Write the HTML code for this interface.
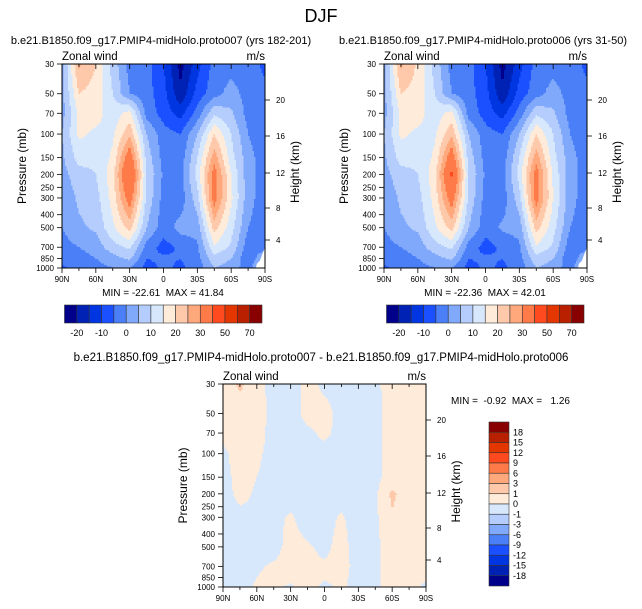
<!DOCTYPE html>
<html><head><meta charset="utf-8"><style>
body{margin:0;background:#fff}
svg{display:block;font-family:"Liberation Sans",Arial,sans-serif}
</style></head><body>
<svg id="fig" width="642" height="609" viewBox="0 0 642 609" xmlns="http://www.w3.org/2000/svg">
<text x="321" y="22" font-size="18" text-anchor="middle">DJF</text>
</svg>
<script>
// ---- data ----
const pressureLevels=[30,50,70,100,150,200,300,500,700,850,1000];
const latLabels=['90N','60N','30N','0','30S','60S','90S'];
const pressureTicks=[30,50,70,100,150,200,250,300,400,500,700,850,1000];
const heightTicks=[20,16,12,8,4];
const heightTickOffsets=[36,72,109,144,176];
// rows = pressure levels, cols = 90N..90S every 15 deg
const u007=[
[3,26,20,8,-2,-3,-10,-22,-12,-3,-2,-3,-6],
[3,20,18,10,0,-3,-8,-19,-8,-2,2,-2,-4],
[3,16,17,12,17,-2,-7,-12,-3,9,6,-2,-4],
[5,16,14,14,24,5,-3,-5,5,20,10,0,-4],
[4,12,11,16,35,8,-2,-3,10,28,12,2,-3],
[3,8,10,18,41,10,-1,-2,12,33,15,2,-3],
[1,6,8,17,34,9,-2,-3,8,33,16,2,-3],
[0,4,6,14,22,5,-3,2,2,22,12,0,-3],
[-2,0,2,8,11,-2,-7,-4,-1,14,9,-3,-2],
[-3,-2,0,3,6,-5,-4,-5,-2,8,5,-4,5],
[-6,-3,-2,0,0,-7,-4,-6,-3,5,3,-3,10]];
const u006=[
[3,26,19,8,-2,-3,-10,-22,-12,-3,-2,-3,-6],
[3,20,18,10,0,-3,-8,-19,-8,-2,2,-2,-4],
[3,16,17,12,17,-2,-7,-12,-3,9,6,-2,-4],
[5,16,14,14,24,5,-3,-5,5,20,10,0,-4],
[4,12,11,16,35,8,-2,-3,10,28,12,2,-3],
[3,8,10,18,42,10,-1,-2,12,33,14,2,-3],
[1,6,8,17,34,9,-2,-3,8,33,15,2,-3],
[0,4,6,14,22,5,-3,1,2,22,12,0,-3],
[-2,0,2,8,11,-2,-7,-4,-1,14,9,-3,-2],
[-3,-2,0,3,6,-5,-4,-5,-2,8,5,-4,5],
[-6,-3,-2,0,0,-7,-4,-6,-3,5,3,-3,10]];
const uDiff=[
[0.4,1.2,0.4,-0.4,-0.4,0.3,-0.2,-0.3,-0.4,-0.2,0.4,0.4,0.3],
[0.4,0.5,0.4,-0.3,-0.4,0.3,0.3,-0.3,-0.4,-0.3,0.4,0.4,0.3],
[0.3,0.4,0.3,-0.3,-0.4,-0.2,0.2,-0.3,-0.4,-0.3,0.4,0.4,0.3],
[-0.2,0.4,0.1,-0.2,-0.4,-0.4,-0.3,-0.4,-0.4,-0.3,0.4,0.4,0.3],
[-0.3,0.3,0.0,-0.2,-0.4,-0.4,-0.3,-0.4,-0.4,-0.3,0.5,0.4,0.3],
[-0.3,0.2,-0.1,-0.2,-0.4,-0.4,-0.3,-0.4,-0.4,-0.2,1.2,0.4,0.3],
[-0.3,-0.2,-0.1,-0.2,0.1,-0.4,-0.3,0.1,-0.4,-0.2,0.9,0.4,0.3],
[-0.3,-0.3,-0.2,-0.3,0.3,0.1,-0.2,0.3,-0.4,-0.2,0.4,0.4,0.3],
[-0.3,-0.3,-0.1,0.1,0.3,0.2,0.1,0.3,-0.3,-0.2,0.4,0.4,0.3],
[-0.3,-0.3,0.0,0.2,0.2,0.3,0.1,0.2,-0.3,-0.2,0.4,0.4,0.1],
[-0.3,-0.3,0.1,0.1,-0.1,0.3,-0.2,0.2,-0.3,-0.2,0.4,0.3,-0.2]];
const windLevels=[-20,-15,-10,-5,0,5,10,15,20,25,30,40,50,60,70];
const windLabels=['-20','-10','0','10','20','30','50','70'];
const diffLevels=[-18,-15,-12,-9,-6,-3,-1,0,1,3,6,9,12,15,18];
const palette=['#00008b','#0022b4','#0036e2','#1a50ff','#4a7ff8','#80a8fb','#b4cdfc','#d7e8fd','#ffebd9','#fec9aa','#fea87c','#fe7a48','#fe4a1e','#e43600','#b82000','#880000'];

// ---- drawing ----
const NS='http://www.w3.org/2000/svg';
const fig=document.getElementById('fig');
function el(tag,attrs,parent,txt){const e=document.createElementNS(NS,tag);for(const k in attrs)e.setAttribute(k,attrs[k]);if(txt!==undefined)e.textContent=txt;(parent||fig).appendChild(e);return e;}
const LP=Math.log(1000/30);
function yOfP(p,y0,h){return y0+h*Math.log(p/30)/LP;}
function sample(data,fx,lp){
  const nc=data[0].length-1;let ci=Math.min(nc-1,Math.max(0,Math.floor(fx)));const tx=Math.min(1,Math.max(0,fx-ci));
  let ri=0;const L=pressureLevels.map(p=>Math.log(p));
  while(ri<L.length-2&&lp>L[ri+1])ri++;
  const ty=Math.min(1,Math.max(0,(lp-L[ri])/(L[ri+1]-L[ri])));
  const a=data[ri][ci]*(1-tx)+data[ri][ci+1]*tx;
  const b=data[ri+1][ci]*(1-tx)+data[ri+1][ci+1]*tx;
  return a*(1-ty)+b*ty;
}
function bin(v,levels){let i=0;while(i<levels.length&&v>=levels[i])i++;return i;}
function panel(name,x0,y0,w,h,data,levels,title,minmax,mmx,mmy,mmAnchor,whiteCorner){
  const g=el('g',{});
  
  
  const cells=el('g',{},g);
  
  
  const c=1.5;
  for(let py=0;py<h;py+=c){
    const lp=Math.log(30)+LP*(py+c/2)/h;
    let runStart=0,runCol=null;
    for(let px=0;;px+=c){
      const done=px>=w;
      let col=null;
      if(!done){const v=sample(data,(px+c/2)/w*12,lp);col=palette[bin(v,levels)];}
      if(col!==runCol||done){
        if(runCol!==null){const r=el('rect',{x:x0+runStart,y:y0+py,width:Math.min(px,w)-runStart+0.3,height:Math.min(c,h-py)+0.3,fill:runCol},cells);
          
          }
        runStart=px;runCol=col;
      }
      if(done)break;
    }
  }
  if(whiteCorner){
    const Y=p=>yOfP(p,y0,h);
    const wc=el('path',{d:`M${x0+w*0.955},${Y(1000)} L${x0+w*0.96},${Y(930)} L${x0+w*0.975},${Y(880)} L${x0+w*0.985},${Y(800)} L${x0+w},${Y(700)} L${x0+w},${Y(1000)}Z`,fill:'#fff'},g);
    
    
  }
  const fr=el('rect',{x:x0,y:y0,width:w,height:h,fill:'none',stroke:'#000','stroke-width':1},g);
  
  
  for(let i=0;i<=12;i++){const x=x0+w*i/12;
    el('line',{x1:x,x2:x,y1:y0,y2:y0+(i%2?3:5),stroke:'#000','stroke-width':0.8},g);
    el('line',{x1:x,x2:x,y1:y0+h,y2:y0+h+(i%2?3:5),stroke:'#000','stroke-width':0.8},g);}
  latLabels.forEach((t,i)=>{const tx=el('text',{x:x0+w*i/6,y:y0+h+14,'font-size':8,'text-anchor':'middle'},g,t);
    
    });
  pressureTicks.forEach(p=>{const y=yOfP(p,y0,h);
    el('line',{x1:x0-5,x2:x0,y1:y,y2:y,stroke:'#000','stroke-width':0.8},g);
    const tx=el('text',{x:x0-8,y:y+3,'font-size':8,'text-anchor':'end'},g,String(p));
    
    });
  heightTicks.forEach((k,i)=>{const y=y0+heightTickOffsets[i];
    el('line',{x1:x0+w,x2:x0+w+5,y1:y,y2:y,stroke:'#000','stroke-width':0.8},g);
    const tx=el('text',{x:x0+w+11,y:y+3,'font-size':8},g,String(k));
    
    });
  const yt=el('text',{transform:`translate(${x0-36},${y0+h/2}) rotate(-90)`,'font-size':12,'text-anchor':'middle'},g,'Pressure (mb)');
  
  
  const yr=el('text',{transform:`translate(${x0+w+34},${y0+h/2+6}) rotate(-90)`,'font-size':12,'text-anchor':'middle'},g,'Height (km)');
  
  
  const zw=el('text',{x:x0,y:y0-4,'font-size':11.5},g,'Zonal wind');
  
  
  const un=el('text',{x:x0+w,y:y0-4,'font-size':11.5,'text-anchor':'end'},g,'m/s');
  
  
  const ti=el('text',{x:title[1],y:title[2],'font-size':title[3],'text-anchor':'middle'},g,title[0]);
  
  
  const mm=el('text',{x:mmx,y:mmy,'font-size':10,'text-anchor':mmAnchor,style:'white-space:pre'},g,minmax);
  
  
}
function hbar(x0,y0,w,h){
  const g=el('g',{});
  
  
  const bw=w/16;
  palette.forEach((c,i)=>{const r=el('rect',{x:x0+i*bw,y:y0,width:bw,height:h,fill:c,stroke:'#333','stroke-width':0.6},g);
    
    });
  windLabels.forEach((t,i)=>{const tx=el('text',{x:x0+bw*(1+2*i),y:y0+h+13,'font-size':9,'text-anchor':'middle'},g,t);
    
    });
}
function vbar(x0,y0,w,h){
  const g=el('g',{});
  
  
  const bh=h/16;
  palette.slice().reverse().forEach((c,i)=>{const r=el('rect',{x:x0,y:y0+i*bh,width:w,height:bh,fill:c,stroke:'#333','stroke-width':0.6},g);
    
    });
  diffLevels.slice().reverse().forEach((v,i)=>{const tx=el('text',{x:x0+w+4,y:y0+bh*(i+1)+3,'font-size':9},g,String(v));
    
    });
}
panel('panel-proto007',62,64,203,204,u007,windLevels,['b.e21.B1850.f09_g17.PMIP4-midHolo.proto007 (yrs 182-201)',161,44,11],'MIN = -22.61  MAX = 41.84',163,296,'middle',true);
panel('panel-proto006',384,64,203,204,u006,windLevels,['b.e21.B1850.f09_g17.PMIP4-midHolo.proto006 (yrs 31-50)',483,44,11],'MIN = -22.36  MAX = 42.01',485,296,'middle',true);
hbar(64.5,305,197.5,18);
hbar(386.5,305,197.5,18);
panel('panel-difference',223,384,203,203,uDiff,diffLevels,['b.e21.B1850.f09_g17.PMIP4-midHolo.proto007 - b.e21.B1850.f09_g17.PMIP4-midHolo.proto006',321,361,11.5],'MIN =  -0.92  MAX =   1.26',451,404,'start',false);
vbar(489,422,20,164);
</script>
</body></html>
